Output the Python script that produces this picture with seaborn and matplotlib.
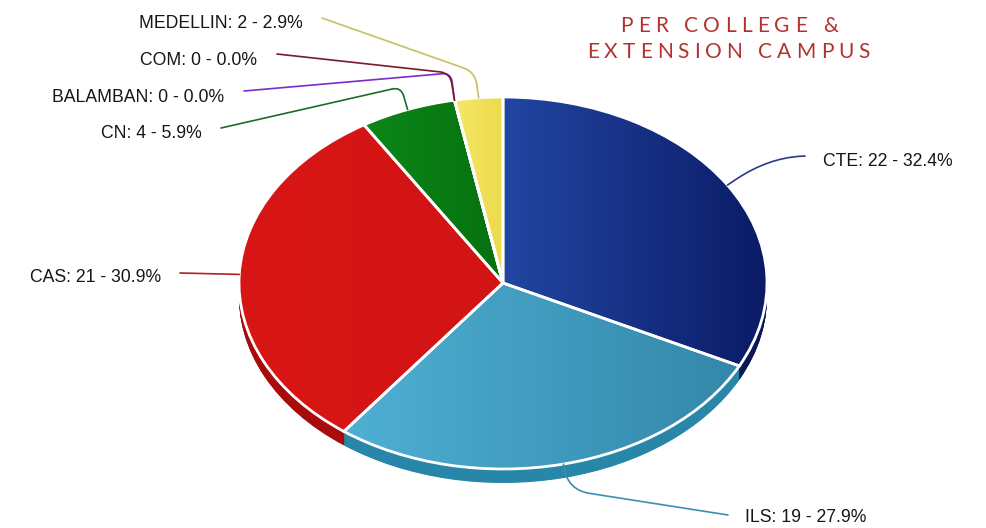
import numpy as np
import matplotlib
matplotlib.use("Agg")
import matplotlib.pyplot as plt
import seaborn as sns
from matplotlib.path import Path
from matplotlib.patches import PathPatch
from matplotlib.colors import to_rgb

# ---------------- data ----------------
categories = ["CTE", "ILS", "CAS", "CN", "BALAMBAN", "COM", "MEDELLIN"]
counts = [22, 19, 21, 4, 0, 0, 2]
title_lines = ["PER COLLEGE &", "EXTENSION CAMPUS"]

# ---------------- style ----------------
top_light = ["#2246a2", "#4fb0d3", "#d91616", "#0c8718", "#7a2ad0", "#7a1a2a", "#f6e866"]
top_dark = ["#0b1b66", "#3387aa", "#d21414", "#06700f", "#7a2ad0", "#7a1a2a", "#ecda4c"]
side_colors = ["#0a1858", "#2886a8", "#a80b0b", "#055a0c", "#5a1aa0", "#5a1020", "#c8b840"]
line_colors = ["#2a3a8a", "#3a8fb0", "#b02020", "#1e6b2a", "#7a2ad0", "#7a1a2a", "#c8c060"]

sns.set_theme(style="white")
plt.rcParams['font.family'] = ['Liberation Sans', 'DejaVu Sans']

W, H = 986, 528
CX, CY, RX, RY, DEPTH = 503, 283, 264, 186, 14

fig = plt.figure(figsize=(W / 100, H / 100), dpi=100)
fig.patch.set_facecolor("white")

ax = fig.add_axes([0, 0, 1, 1])
d = DEPTH / RY

# side (stacked darker pies)
steps = 28
for k in range(steps, 0, -1):
    ax.pie(counts, startangle=90, counterclock=False, colors=side_colors,
           radius=1, center=(0, -d * k / steps),
           wedgeprops=dict(linewidth=0))

# top face
top_wedges, _ = ax.pie(counts, startangle=90, counterclock=False, colors=top_light,
                       radius=1, center=(0, 0), wedgeprops=dict(linewidth=0))

# gradient shading on top face
gx = np.linspace(-1, 1, 400)
gy = np.linspace(-1, 1, 300)
GX, GY = np.meshgrid(gx, gy)
for i, w in enumerate(top_wedges):
    if counts[i] == 0:
        continue
    angs = np.radians(np.linspace(w.theta1, w.theta2, 60))
    xs = np.concatenate([[0], np.cos(angs)])
    xmin, xmax = xs.min(), xs.max()
    t = np.clip((GX - xmin) / max(xmax - xmin, 1e-6), 0, 1)[..., None]
    c0 = np.array(to_rgb(top_light[i]))
    c1 = np.array(to_rgb(top_dark[i]))
    img = c0 + t * (c1 - c0)
    im = ax.imshow(img, extent=(-1, 1, -1, 1), origin="lower", aspect="auto",
                   zorder=2, interpolation="bilinear")
    im.set_clip_path(w)

# white separators / rim
ax.pie(counts, startangle=90, counterclock=False, colors=["none"] * len(counts),
       radius=1, center=(0, 0),
       wedgeprops=dict(linewidth=2.0, edgecolor="white", facecolor="none", zorder=3))

ax.set_aspect("auto")
ax.set_xlim((0 - CX) / RX, (W - CX) / RX)
ax.set_ylim((CY - H) / RY, CY / RY)
ax.axis("off")

# ---------------- overlay in pixel coordinates ----------------
axp = fig.add_axes([0, 0, 1, 1], zorder=5)
axp.set_xlim(0, W)
axp.set_ylim(H, 0)
axp.axis("off")
axp.patch.set_alpha(0)

total = sum(counts)
cum = np.cumsum([0] + counts)
anchors = []
for i in range(len(counts)):
    mid = (cum[i] + cum[i + 1]) / 2 / total
    a = np.radians(90 - 360 * mid)
    anchors.append((CX + RX * np.cos(a), CY - RY * np.sin(a)))

# label placement (layout)
label_pos = {
    "CTE": (823, 166, "left"),
    "ILS": (745, 522, "left"),
    "CAS": (161, 282, "right"),
    "CN": (202, 138, "right"),
    "BALAMBAN": (224, 102, "right"),
    "COM": (257, 65, "right"),
    "MEDELLIN": (303, 28, "right"),
}
line_geom = {
    "CTE": ((805, 156), (768, 158), 38),
    "ILS": ((728, 515), (568, 490), 22),
    "CAS": ((180, 273), None, 0),
    "CN": ((221, 128), (401, 87), 9),
    "BALAMBAN": ((244, 91), (451, 73), 9),
    "COM": ((277, 54), (450, 73), 10),
    "MEDELLIN": ((322, 18), (475, 72), 12),
}


def leader(start, knee, end, rad, color):
    start = np.array(start, float)
    end = np.array(end, float)
    if knee is None:
        verts = [start, end]
        codes = [Path.MOVETO, Path.LINETO]
    else:
        knee = np.array(knee, float)
        u = (start - knee) / np.linalg.norm(start - knee)
        v = (end - knee) / np.linalg.norm(end - knee)
        p1 = knee + u * min(rad, np.linalg.norm(start - knee) * 0.9)
        p2 = knee + v * min(rad, np.linalg.norm(end - knee) * 0.9)
        verts = [start, p1, knee, p2, end]
        codes = [Path.MOVETO, Path.LINETO, Path.CURVE3, Path.CURVE3, Path.LINETO]
    axp.add_patch(PathPatch(Path(verts, codes), facecolor="none",
                            edgecolor=color, linewidth=1.2, capstyle="round"))


for i, cat in enumerate(categories):
    pct = 100 * counts[i] / total
    x, y, ha = label_pos[cat]
    axp.text(x, y, f"{cat}: {counts[i]} - {pct:.1f}%", ha=ha, va="baseline",
             fontsize=12.7, color="#161616")
    s, k, r = line_geom[cat]
    leader(s, k, anchors[i], r, line_colors[i])

# ---------------- title with letter spacing ----------------
renderer = fig.canvas.get_renderer()
title_kw = dict(fontsize=15, color="#b3322e", family=["Lato", "DejaVu Sans"])
title_layout = [(620, 838, 32), (587, 870, 58)]
for line, (xl, xr, yb) in zip(title_lines, title_layout):
    widths = []
    for ch in line:
        if ch == " ":
            widths.append(None)
            continue
        tt = axp.text(0, 0, ch, **title_kw)
        widths.append(tt.get_window_extent(renderer).width)
        tt.remove()
    space_w = 6.0
    natural = sum(w if w is not None else space_w for w in widths)
    track = (xr - xl - natural) / (len(line) - 1)
    xx = xl
    for ch, wdt in zip(line, widths):
        if wdt is None:
            xx += space_w + track
            continue
        axp.text(xx, yb, ch, ha="left", va="baseline", **title_kw)
        xx += wdt + track

fig.savefig("out.png", dpi=100, facecolor="white")
